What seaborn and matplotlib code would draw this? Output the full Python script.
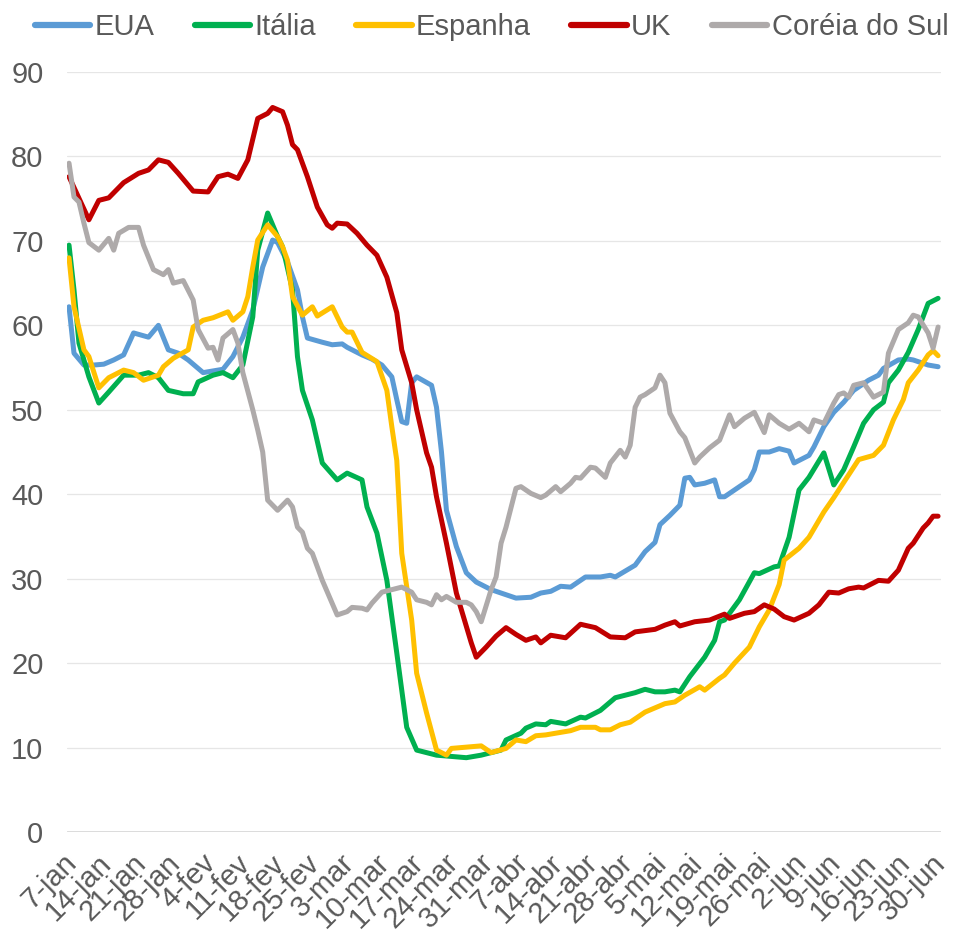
import pandas as pd
import matplotlib.pyplot as plt
from matplotlib.lines import Line2D
from matplotlib.transforms import ScaledTranslation
import seaborn as sns

# dias contados a partir de 7-jan (2020)
eua_dia = [0, 1, 3, 5, 7, 9, 11, 13, 16, 18, 20, 22, 24, 27, 29, 31, 33, 35, 37, 39, 41, 42, 44, 46, 47, 48,
           51, 53, 55, 56, 59, 61, 63, 65, 66, 67, 68, 69, 70, 73, 74, 75, 76, 78, 80, 82, 85, 87, 90, 93, 95,
           97, 99, 101, 104, 107, 109, 110, 112, 114, 116, 118, 119, 121, 123, 124, 125, 126, 128, 130, 131,
           132, 134, 137, 138, 139, 141, 143, 145, 146, 149, 150, 152, 154, 156, 158, 161, 163, 164, 167, 169,
           170, 173, 175]
eua = [62.2, 56.7, 55.3, 55.3, 55.4, 55.9, 56.5, 59.1, 58.6, 60.0, 57.1, 56.7, 55.9, 54.4, 54.6, 54.8, 56.3,
       58.6, 61.8, 66.9, 70.1, 69.8, 67.5, 64.2, 61.0, 58.5, 58.0, 57.7, 57.8, 57.4, 56.5, 56.0, 55.3, 53.9,
       51.2, 48.6, 48.4, 53.2, 53.9, 52.9, 50.3, 45.0, 38.1, 33.8, 30.7, 29.6, 28.7, 28.3, 27.7, 27.8, 28.3,
       28.5, 29.1, 29.0, 30.2, 30.2, 30.4, 30.2, 30.9, 31.6, 33.2, 34.3, 36.4, 37.5, 38.7, 41.9, 42.0, 41.1,
       41.3, 41.7, 39.7, 39.7, 40.5, 41.7, 42.9, 45.0, 45.0, 45.4, 45.1, 43.7, 44.6, 45.6, 48.0, 49.7, 50.9,
       52.3, 53.5, 54.1, 54.9, 55.9, 56.0, 55.9, 55.3, 55.1]

italia_dia = [0, 1, 2, 4, 6, 8, 11, 14, 16, 18, 20, 23, 25, 26, 29, 31, 33, 35, 37, 38, 40, 42, 43, 45, 46, 47,
              49, 51, 54, 56, 59, 60, 62, 64, 66, 68, 70, 74, 80, 83, 87, 88, 91, 92, 94, 96, 97, 100, 103, 104,
              107, 110, 114, 116, 118, 120, 122, 123, 125, 128, 130, 131, 132, 135, 138, 139, 142, 143, 145, 147,
              149, 152, 154, 156, 158, 160, 162, 164, 165, 167, 169, 171, 173, 175]
italia = [69.5, 64.2, 57.9, 53.9, 50.8, 52.1, 54.1, 54.1, 54.4, 53.8, 52.3, 51.9, 51.9, 53.3, 54.1, 54.4, 53.8,
          55.3, 61.0, 68.9, 73.3, 70.5, 69.3, 64.2, 56.3, 52.3, 48.8, 43.7, 41.7, 42.5, 41.7, 38.5, 35.4, 29.8,
          21.2, 12.4, 9.7, 9.1, 8.8, 9.1, 9.7, 10.9, 11.7, 12.3, 12.8, 12.7, 13.1, 12.8, 13.6, 13.5, 14.4, 15.9,
          16.5, 16.9, 16.6, 16.6, 16.8, 16.6, 18.4, 20.7, 22.7, 24.9, 25.1, 27.5, 30.7, 30.6, 31.4, 31.5, 34.9,
          40.5, 42.0, 44.9, 41.1, 42.9, 45.6, 48.4, 50.0, 50.9, 53.2, 54.7, 56.8, 59.5, 62.6, 63.2]

espanha_dia = [0, 1, 3, 4, 6, 8, 11, 13, 15, 18, 19, 21, 24, 25, 27, 29, 32, 33, 35, 36, 37, 38, 40, 42, 43, 44,
               45, 47, 49, 50, 53, 55, 56, 57, 59, 62, 64, 65, 66, 67, 69, 70, 72, 74, 76, 77, 81, 83, 85, 88, 90,
               92, 94, 96, 98, 101, 103, 106, 107, 109, 111, 113, 116, 118, 120, 122, 124, 127, 128, 131, 132,
               134, 137, 139, 141, 143, 144, 147, 149, 152, 154, 157, 159, 162, 164, 166, 168, 169, 171, 173,
               174, 175]
espanha = [68.0, 62.2, 57.1, 56.3, 52.6, 53.8, 54.7, 54.4, 53.5, 54.1, 55.1, 56.1, 57.1, 59.8, 60.6, 60.9, 61.6,
           60.6, 61.6, 63.4, 66.9, 70.1, 71.9, 70.5, 69.3, 67.7, 63.4, 61.2, 62.2, 61.1, 62.2, 59.8, 59.2, 59.2,
           56.8, 55.7, 52.3, 48.0, 44.0, 33.0, 25.1, 18.8, 14.1, 9.7, 9.1, 9.9, 10.1, 10.2, 9.4, 9.9, 10.9, 10.7,
           11.4, 11.5, 11.7, 12.0, 12.4, 12.4, 12.1, 12.1, 12.7, 13.0, 14.2, 14.7, 15.2, 15.4, 16.2, 17.2, 16.8,
           18.2, 18.6, 20.0, 21.9, 24.3, 26.3, 29.3, 32.2, 33.6, 34.9, 37.9, 39.6, 42.3, 44.1, 44.6, 45.8, 48.8,
           51.2, 53.2, 54.7, 56.5, 57.0, 56.4]

uk_dia = [0, 4, 6, 8, 11, 14, 16, 18, 20, 22, 25, 28, 30, 32, 34, 36, 38, 40, 41, 43, 44, 45, 46, 48, 50, 52,
          53, 54, 56, 58, 60, 62, 64, 66, 67, 69, 70, 72, 73, 74, 76, 78, 81, 82, 84, 86, 88, 90, 92, 94, 95, 97,
          100, 103, 106, 109, 112, 114, 118, 120, 122, 123, 126, 129, 132, 133, 136, 138, 140, 142, 144, 146,
          149, 151, 153, 155, 157, 159, 160, 163, 165, 167, 169, 170, 172, 173, 174, 175]
uk = [77.6, 72.5, 74.8, 75.1, 76.9, 78.0, 78.4, 79.6, 79.3, 78.0, 75.9, 75.8, 77.6, 77.9, 77.4, 79.6, 84.5,
      85.1, 85.8, 85.3, 83.7, 81.4, 80.8, 77.6, 74.0, 71.9, 71.5, 72.1, 72.0, 70.9, 69.5, 68.3, 65.7, 61.5,
      57.1, 53.2, 50.0, 44.9, 43.2, 39.7, 34.2, 28.3, 22.4, 20.7, 21.9, 23.2, 24.2, 23.4, 22.7, 23.1, 22.4,
      23.3, 23.0, 24.6, 24.2, 23.1, 23.0, 23.7, 24.0, 24.5, 24.9, 24.4, 24.9, 25.1, 25.8, 25.3, 25.9, 26.1,
      26.9, 26.4, 25.5, 25.1, 25.9, 26.9, 28.4, 28.3, 28.8, 29.0, 28.9, 29.8, 29.7, 31.0, 33.6, 34.2, 36.0,
      36.6, 37.4, 37.4]

coreia_dia = [0, 1, 2, 3, 4, 6, 8, 9, 10, 12, 14, 15, 17, 19, 20, 21, 23, 25, 26, 28, 29, 30, 31, 33, 34, 35,
              37, 38, 39, 40, 42, 44, 45, 46, 47, 48, 49, 51, 54, 56, 57, 59, 60, 61, 63, 65, 67, 69, 70, 72, 73,
              74, 75, 76, 78, 80, 81, 82, 83, 85, 86, 87, 88, 90, 91, 93, 95, 96, 98, 99, 101, 102, 103, 105, 106,
              108, 109, 111, 112, 113, 114, 115, 116, 118, 119, 120, 121, 123, 124, 126, 127, 129, 131, 133, 134,
              136, 138, 140, 141, 143, 145, 147, 149, 150, 152, 154, 155, 156, 157, 158, 160, 162, 164, 165, 167,
              169, 170, 171, 173, 174, 175]
coreia = [79.2, 75.2, 74.6, 72.1, 69.8, 68.9, 70.3, 68.9, 70.9, 71.6, 71.6, 69.5, 66.6, 66.0, 66.6, 65.0, 65.3,
          63.0, 59.5, 57.3, 57.4, 55.9, 58.5, 59.5, 57.9, 54.4, 50.0, 47.6, 45.0, 39.3, 38.1, 39.3, 38.5, 36.1,
          35.5, 33.6, 33.0, 29.8, 25.7, 26.1, 26.6, 26.5, 26.3, 27.1, 28.4, 28.7, 29.0, 28.4, 27.5, 27.2, 26.9,
          28.1, 27.5, 27.9, 27.2, 27.2, 26.9, 26.1, 24.9, 28.7, 30.2, 34.2, 36.1, 40.7, 40.9, 40.1, 39.6, 39.9,
          40.9, 40.3, 41.3, 42.0, 41.9, 43.2, 43.1, 42.0, 43.7, 45.2, 44.4, 45.8, 50.3, 51.5, 51.8, 52.6, 54.1,
          53.2, 49.6, 47.4, 46.7, 43.7, 44.4, 45.5, 46.4, 49.4, 48.0, 49.0, 49.7, 47.3, 49.4, 48.4, 47.7, 48.4,
          47.4, 48.8, 48.4, 50.8, 51.8, 52.0, 51.5, 52.9, 53.2, 51.5, 52.1, 56.7, 59.5, 60.3, 61.2, 61.0, 59.1,
          57.3, 59.8]

paises = ['EUA', 'Itália', 'Espanha', 'UK', 'Coréia do Sul']
cores = ['#5B9BD5', '#00B050', '#FFC000', '#C00000', '#AEAAAA']

semanas = list(range(0, 176, 7))
rotulos = ['7-jan', '14-jan', '21-jan', '28-jan', '4-fev', '11-fev', '18-fev', '25-fev', '3-mar', '10-mar',
           '17-mar', '24-mar', '31-mar', '7-abr', '14-abr', '21-abr', '28-abr', '5-mai', '12-mai', '19-mai',
           '26-mai', '2-jun', '9-jun', '16-jun', '23-jun', '30-jun']

series = [(eua_dia, eua), (italia_dia, italia), (espanha_dia, espanha), (uk_dia, uk), (coreia_dia, coreia)]
frames = []
for nome, (d, v) in zip(paises, series):
    frames.append(pd.DataFrame({'dia': d, 'valor': v, 'pais': nome}))
df = pd.concat(frames, ignore_index=True)

sns.set_style("white")
plt.rcParams['font.family'] = ['Liberation Sans', 'DejaVu Sans']
cinza = '#595959'

fig = plt.figure(figsize=(9.55, 9.34), dpi=100)
ax = fig.add_axes([0.0702, 0.1092, 0.9152, 0.8137])

sns.lineplot(data=df, x='dia', y='valor', hue='pais', hue_order=paises, palette=cores,
             estimator=None, linewidth=3.6, ax=ax, legend=False, solid_joinstyle='round')

ax.set_xlim(-0.4, 175.6)
ax.set_ylim(0, 90)
ax.set_yticks(range(0, 91, 10))
ax.set_xticks(semanas)
ax.set_xticklabels(rotulos, rotation=45, ha='right', rotation_mode='anchor')
ax.tick_params(axis='both', length=0, labelsize=21, colors=cinza)
ax.tick_params(axis='y', pad=17)
ax.tick_params(axis='x', pad=12)
# empurra os rótulos do eixo x um pouco para a esquerda
desloc = ScaledTranslation(-5 / 72, 0, fig.dpi_scale_trans)
for lbl in ax.get_xticklabels():
    lbl.set_transform(lbl.get_transform() + desloc)
ax.set_xlabel('')
ax.set_ylabel('')
ax.yaxis.grid(True, color='#E6E6E6', linewidth=0.9)
ax.set_axisbelow(True)
for s in ax.spines.values():
    s.set_visible(False)
ax.axhline(0, color='#D9D9D9', linewidth=2, zorder=1)

handles = [Line2D([], [], color=c, linewidth=4.5, solid_capstyle='round') for c in cores]
leg = fig.legend(handles, paises, loc='upper center', bbox_to_anchor=(0.5147, 1.014), ncol=5,
                 frameon=False, fontsize=21, handlelength=1.9, handletextpad=0.15, columnspacing=1.38)
for t in leg.get_texts():
    t.set_color(cinza)

fig.savefig('out.png', dpi=100)
